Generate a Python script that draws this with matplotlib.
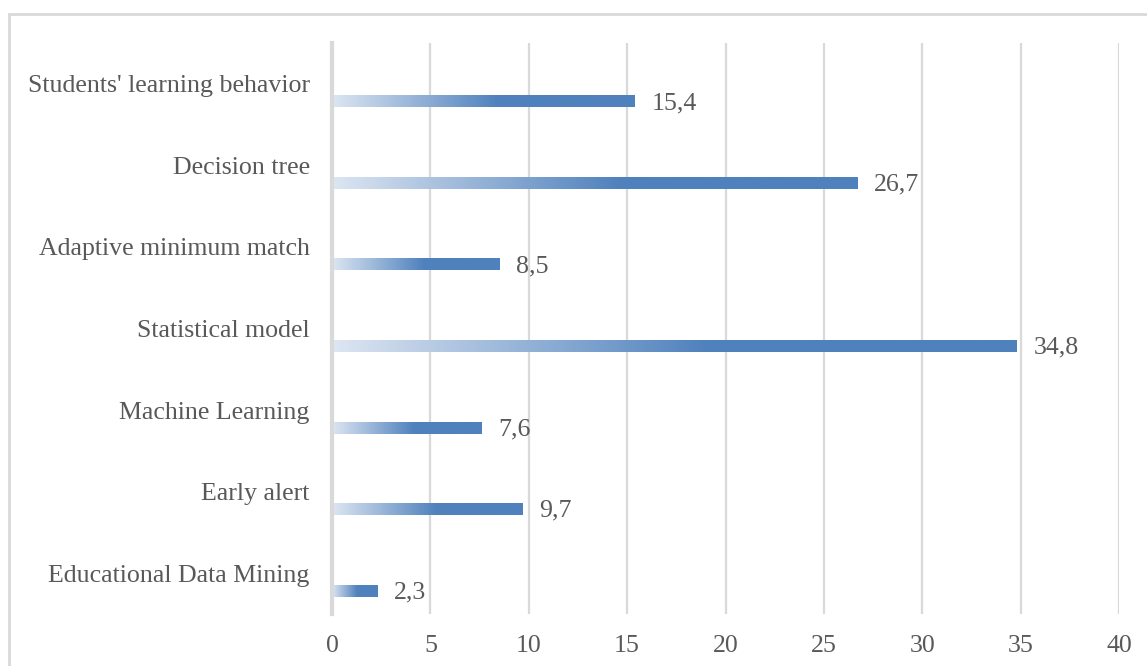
import numpy as np
import matplotlib.pyplot as plt
from matplotlib.colors import LinearSegmentedColormap
from matplotlib.patches import Rectangle

# data, top to bottom as shown
categories = [
    "Students' learning behavior",
    "Decision tree",
    "Adaptive minimum match",
    "Statistical model",
    "Machine Learning",
    "Early alert",
    "Educational Data Mining",
]
values = [15.4, 26.7, 8.5, 34.8, 7.6, 9.7, 2.3]
value_labels = ["15,4", "26,7", "8,5", "34,8", "7,6", "9,7", "2,3"]
x_ticks = [0, 5, 10, 15, 20, 25, 30, 35, 40]

TEXT = "#595959"
GRID = "#d9d9d9"
BLUE = "#4f81bd"
LIGHT = "#dde6f2"
FS = 18.6

plt.rcParams["font.family"] = ["Liberation Serif", "DejaVu Serif"]

fig = plt.figure(figsize=(11.47, 6.66), dpi=100)
ax = fig.add_axes([332 / 1147, 1 - 614 / 666, (1119 - 332) / 1147, (614 - 43) / 666])

# outer chart frame (cut off on right/bottom in the original)
fig.patches.append(Rectangle((9 / 1147, -0.1), 1.2, 1 - 13.5 / 666 + 0.1,
                             transform=fig.transFigure, fill=False,
                             edgecolor=GRID, linewidth=2, zorder=0))

pos = np.arange(len(categories))
offset = 0.215
bars = ax.barh(pos + offset, values, height=0.147, color="none", edgecolor="none", zorder=3)

cmap = LinearSegmentedColormap.from_list("grad", [(0, LIGHT), (0.55, BLUE), (1, BLUE)])
grad = np.linspace(0, 1, 256).reshape(1, -1)
for bar in bars:
    x0, y0 = bar.get_x(), bar.get_y()
    w, h = bar.get_width(), bar.get_height()
    im = ax.imshow(grad, cmap=cmap, aspect="auto", extent=[x0, x0 + w, y0 + h, y0],
                   interpolation="bicubic", zorder=3)
    im.set_clip_path(bar)

for p, v, lab in zip(pos, values, value_labels):
    ax.text(v + 0.85, p + offset + 0.02, lab, va="center", ha="left", fontsize=FS, color=TEXT)

ax.set_xlim(0, 40)
ax.set_ylim(len(categories) - 0.5, -0.5)
ax.set_xticks(x_ticks)
ax.set_yticks(pos)
ax.set_yticklabels(categories)
ax.tick_params(axis="both", length=0, labelsize=FS, colors=TEXT)
ax.tick_params(axis="x", pad=15)
ax.tick_params(axis="y", pad=16)
for lab in ax.get_xticklabels() + ax.get_yticklabels():
    lab.set_color(TEXT)

for s in ["top", "right", "bottom"]:
    ax.spines[s].set_visible(False)
ax.spines["left"].set_color(GRID)
ax.spines["left"].set_linewidth(3)
ax.spines["left"].set_zorder(4)
ax.xaxis.grid(True, color=GRID, linewidth=1.6)
ax.set_axisbelow(True)

fig.savefig("out.png", dpi=100)
